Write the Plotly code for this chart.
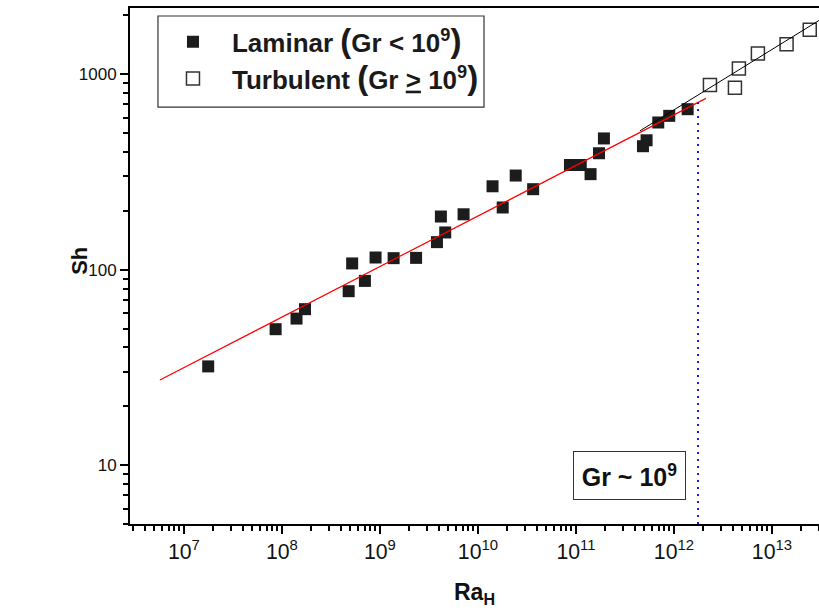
import numpy as np
import plotly.graph_objects as go

# ---- data ----
laminar_ra = [1.77e7, 8.63e7, 1.41e8, 1.72e8, 4.80e8, 7.03e8, 5.21e8, 9.03e8, 1.38e9, 2.34e9,
              3.82e9, 4.64e9, 4.19e9, 7.14e9, 1.41e10, 1.79e10, 2.43e10, 3.66e10, 8.69e10, 1.12e11,
              1.41e11, 1.72e11, 1.93e11, 4.83e11, 5.26e11, 6.92e11, 8.95e11, 1.38e12]
laminar_sh = [32.0, 49.6, 56.2, 62.8, 77.6, 87.6, 107.6, 115.4, 114.5, 114.9,
              138.3, 155, 187, 192, 267, 208, 303, 258, 343, 343,
              308, 394, 469, 428, 459, 566, 612, 662]

turbulent_ra = [2.33e12, 4.19e12, 4.60e12, 7.19e12, 1.41e13, 2.43e13]
turbulent_sh = [879, 851, 1070, 1276, 1423, 1687]

# power-law fits Sh = C * Ra^n
lam_fit_C, lam_fit_n = 0.488, 0.2586
lam_fit_ra = [5.69e6, 2.12e12]
turb_fit_C, turb_fit_n = 0.1286, 0.309
turb_fit_ra = [4.5e11, 3.2e13]

transition_ra = 1.76e12
y_min, y_max = 5.0, 2180.0
x_min, x_max = 2.82e6, 3.02e13

lam_fit_sh = [lam_fit_C * r ** lam_fit_n for r in lam_fit_ra]
turb_fit_sh = [turb_fit_C * r ** turb_fit_n for r in turb_fit_ra]
trans_top = lam_fit_C * transition_ra ** lam_fit_n

FONT = "Liberation Sans, Arial, sans-serif"
PAREN_L = "<span style='font-size:33px'>(</span>"
PAREN_R = "<span style='font-size:33px'>)</span>"

fig = go.Figure()

fig.add_trace(go.Scatter(
    x=laminar_ra, y=laminar_sh, mode="markers", legendgroup="a",
    name="<b>Laminar " + PAREN_L + "Gr &lt; 10<sup>9</sup>" + PAREN_R + "</b>",
    marker=dict(symbol="square", size=12, color="#1c1c1c", line=dict(width=0)),
))
fig.add_trace(go.Scatter(
    x=turbulent_ra, y=turbulent_sh, mode="markers", legendgroup="b",
    name="<b>Turbulent " + PAREN_L + "Gr <u>&gt;</u> 10<sup>9</sup>" + PAREN_R + "</b>",
    marker=dict(symbol="square-open", size=13, color="#333333", line=dict(width=1.5, color="#333333")),
))
fig.add_trace(go.Scatter(
    x=lam_fit_ra, y=lam_fit_sh, mode="lines", showlegend=False,
    line=dict(color="#ff0000", width=1.2),
))
fig.add_trace(go.Scatter(
    x=turb_fit_ra, y=turb_fit_sh, mode="lines", showlegend=False,
    line=dict(color="#000000", width=1),
))
fig.add_trace(go.Scatter(
    x=[transition_ra, transition_ra], y=[y_min, trans_top], mode="lines", showlegend=False,
    line=dict(color="#0000ff", width=1.8, dash="2px,5px"),
))

axis_common = dict(
    type="log", showline=True, linewidth=2, linecolor="black",
    ticks="outside", ticklen=8, tickwidth=2, tickcolor="black",
    showgrid=False, zeroline=False,
    tickfont=dict(family=FONT, size=17, color="#111"),
    minor=dict(ticks="outside", ticklen=5, tickwidth=1.5, tickcolor="black", dtick="D1", showgrid=False),
    tickmode="linear", tick0=0, dtick=1,
)

fig.update_layout(
    width=819, height=613,
    margin=dict(l=130, r=0, t=8, b=89),
    paper_bgcolor="white", plot_bgcolor="white",
    xaxis=dict(range=[np.log10(x_min), np.log10(x_max)], exponentformat="power", mirror=True, **axis_common),
    yaxis=dict(range=[np.log10(y_min), np.log10(y_max)], exponentformat="none", **axis_common),
    legend=dict(
        x=0.0348, y=0.98, xanchor="left", yanchor="top",
        bgcolor="rgba(0,0,0,0)", borderwidth=0,
        font=dict(family=FONT, size=26, color="#1a1a1a"),
        traceorder="grouped", tracegroupgap=0, itemwidth=68,
    ),
    shapes=[dict(type="rect", xref="paper", yref="paper",
                 x0=0.0406, x1=0.5138, y0=0.808, y1=0.9845,
                 line=dict(color="#333", width=1.2), fillcolor="rgba(0,0,0,0)")],
    annotations=[
        dict(text="<b>Sh</b>", xref="paper", yref="paper", x=-0.0726, y=0.51,
             xanchor="center", yanchor="middle",
             showarrow=False, textangle=-90, font=dict(family=FONT, size=22, color="#111")),
        dict(text="<b>Ra<sub>H</sub></b>", xref="paper", yref="paper", x=0.5, y=-0.134,
             xanchor="center", yanchor="middle",
             showarrow=False, font=dict(family=FONT, size=23, color="#111")),
        dict(text="<b>Gr ~ 10<sup>9</sup></b>", xref="paper", yref="paper", x=0.725, y=0.094,
             xanchor="center", yanchor="middle",
             showarrow=False, width=111, height=47, borderpad=0, bordercolor="#333",
             borderwidth=1, bgcolor="white", font=dict(family=FONT, size=25, color="#111")),
    ],
)

fig.write_html("out.html")
